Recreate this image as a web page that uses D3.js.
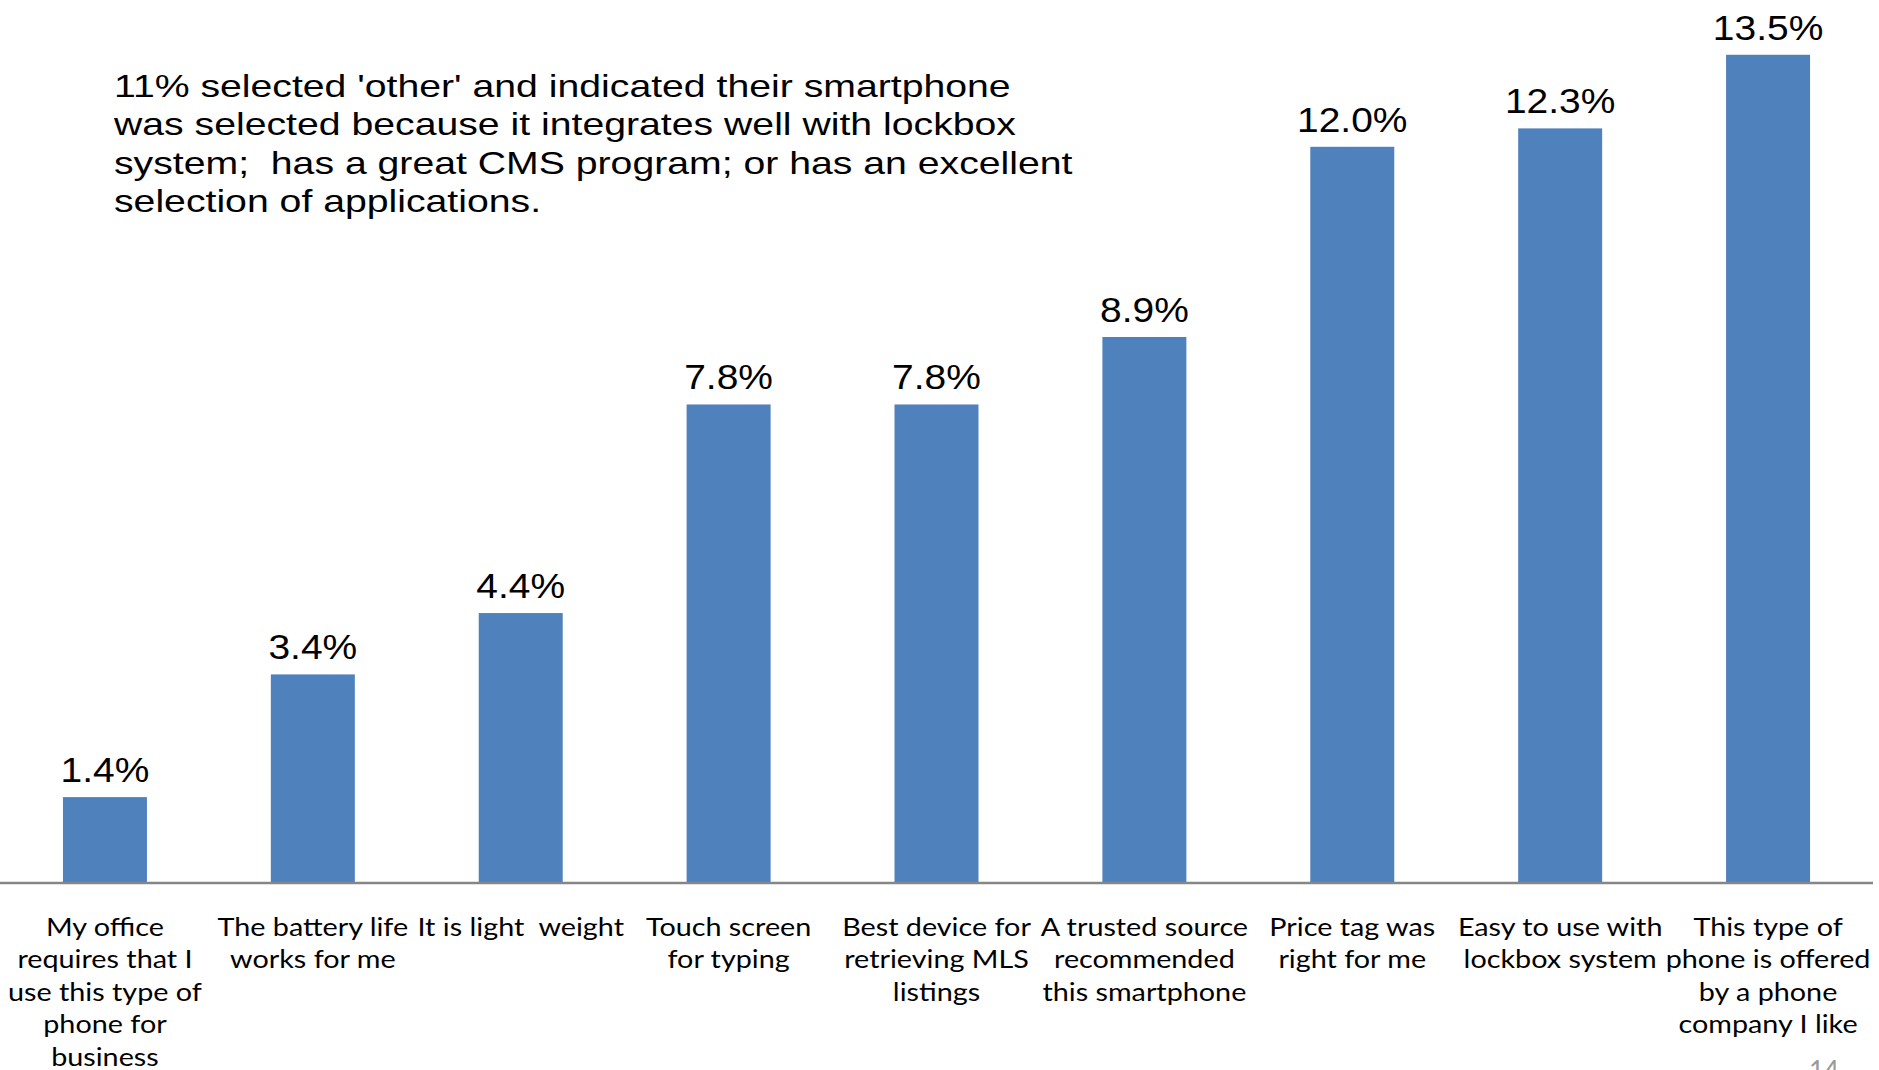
<!DOCTYPE html>
<html>
<head>
<meta charset="utf-8">
<script src="https://cdn.jsdelivr.net/npm/d3@7"></script>
<style>
  html, body { margin: 0; padding: 0; background: #ffffff; }
  svg { display: block; }
  text { white-space: pre; }
</style>
</head>
<body>
<script>
// Reasons a smartphone was chosen (share of respondents, %)
const categories = [
  ["My office", "requires that I", "use this type of", "phone for", "business"],
  ["The battery life", "works for me"],
  ["It is light  weight"],
  ["Touch screen", "for typing"],
  ["Best device for", "retrieving MLS", "listings"],
  ["A trusted source", "recommended", "this smartphone"],
  ["Price tag was", "right for me"],
  ["Easy to use with", "lockbox system"],
  ["This type of", "phone is offered", "by a phone", "company I like"]
];
const values = [1.4, 3.4, 4.4, 7.8, 7.8, 8.9, 12.0, 12.3, 13.5];

const noteLines = [
  "11% selected 'other' and indicated their smartphone",
  "was selected because it integrates well with lockbox",
  "system;  has a great CMS program; or has an excellent",
  "selection of applications."
];
const pageNumber = "14";

const W = 1879, H = 1070;
const baseY = 883;
const barColor = "#4F81BD";

const svg = d3.select("body").append("svg")
  .attr("width", W).attr("height", H)
  .attr("viewBox", `0 0 ${W} ${H}`);

svg.append("rect").attr("width", W).attr("height", H).attr("fill", "#fff");

const x = d3.scaleBand()
  .domain(d3.range(values.length))
  .range([1, 1872])
  .paddingInner(0.596)
  .paddingOuter(0.298);

const y = d3.scaleLinear()
  .domain([0, 14])
  .range([baseY, baseY - 14 * 61.35]);

// bars
svg.append("g").selectAll("rect")
  .data(values)
  .join("rect")
  .attr("x", (d, i) => x(i))
  .attr("y", d => y(d))
  .attr("width", x.bandwidth())
  .attr("height", d => y(0) - y(d))
  .attr("fill", barColor);

// category axis line
svg.append("line")
  .attr("x1", 0).attr("x2", 1873)
  .attr("y1", baseY).attr("y2", baseY)
  .attr("stroke", "#868686")
  .attr("stroke-width", 2.6);

// value labels
const fmt = d => d3.format(".1f")(d) + "%";
svg.append("g").selectAll("text")
  .data(values)
  .join("text")
  .attr("transform", (d, i) => `translate(${x(i) + x.bandwidth() / 2},${y(d) - 15}) scale(1.13,1)`)
  .attr("text-anchor", "middle")
  .attr("font-family", "'Liberation Sans', Arial, sans-serif")
  .attr("font-size", 34.5)
  .attr("fill", "#000")
  .text(fmt);

// category labels
const catG = svg.append("g")
  .attr("font-family", "Lato, 'Open Sans', sans-serif")
  .attr("font-size", 25)
  .attr("fill", "#000");
categories.forEach((lines, i) => {
  const t = catG.append("text")
    .attr("transform", `translate(${x(i) + x.bandwidth() / 2},936) scale(1.15,1)`)
    .attr("text-anchor", "middle");
  lines.forEach((ln, k) => {
    t.append("tspan").attr("x", 0).attr("y", k * 32.4).text(ln);
  });
});

// note text
const note = svg.append("text")
  .attr("transform", "translate(114,97) scale(1.265,1)")
  .attr("font-family", "'Liberation Sans', Arial, sans-serif")
  .attr("font-size", 31)
  .attr("fill", "#000");
noteLines.forEach((ln, k) => {
  note.append("tspan").attr("x", 0).attr("y", k * 38.4).text(ln);
});

// slide number, partly below the bottom edge
svg.append("text")
  .attr("x", 1824).attr("y", 1080)
  .attr("text-anchor", "middle")
  .attr("font-family", "Lato, sans-serif")
  .attr("font-size", 26)
  .attr("fill", "#999")
  .text(pageNumber);
</script>
</body>
</html>
